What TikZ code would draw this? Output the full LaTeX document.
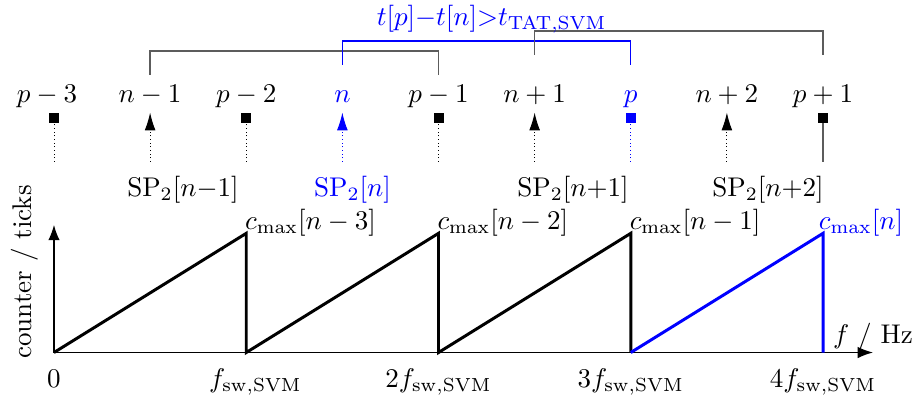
\documentclass[tikz,border=0pt]{standalone}
\usepackage{tikz}
\usetikzlibrary{arrows.meta,positioning,calc}
\definecolor{Hi}{HTML}{0000FF}
\definecolor{Rule}{HTML}{5C5C5C}
\tikzset{
  lbl/.style={anchor=base, inner sep=0pt},
  axis/.style={-{Latex[length=2mm,width=1.5mm]}, line width=0.5pt},
  saw/.style={line width=1.1pt},
  tiparrow/.style={-{Latex[length=2.3mm,width=1.4mm]}, densely dotted, line width=0.35pt},
  tipsq/.style={-{Square[length=1.3mm,width=1.3mm]}, densely dotted, line width=0.35pt},
  brk/.style={draw=Rule, line width=0.5pt},
}

\begin{document}
\begin{tikzpicture}
  \useasboundingbox (-0.702,-0.605) rectangle (11.274,4.584);
  % counter over one period each
  \coordinate (o) at (0,0);
  \coordinate (t1) at (2.5,0);
  \coordinate (t2) at (5,0);
  \coordinate (t3) at (7.5,0);
  \coordinate (t4) at (10,0);
  \coordinate (c1) at (2.5,1.55);
  \coordinate (c2) at (5,1.55);
  \coordinate (c3) at (7.5,1.55);
  \coordinate (c4) at (10,1.55);
  \coordinate (xend) at (10.65,0);
  \coordinate (yend) at (0,1.66);
  \draw[axis] (o) -- (xend);
  \draw[axis] (o) -- (yend);
  \draw[saw] (o) -- (c1) -- (t1) -- (c2) -- (t2) -- (c3) -- (t3);
  \draw[saw, draw=Hi] (t3) -- (c4) -- (t4);
  \node[rotate=90] (ylab) at (-0.377,1.047) {counter / ticks};
  \node[anchor=south, inner sep=0.5pt] (xlab) at (xend) {$f$ / Hz};
  \node[below=4.6mm of o, lbl] (f0) {$0$};
  \node[below=4.6mm of t1, lbl, xshift=1.2mm] (f1) {$f_{\mathrm{sw,SVM}}$};
  \node[below=4.6mm of t2, lbl] (f2) {$2f_{\mathrm{sw,SVM}}$};
  \node[below=4.6mm of t3, lbl] (f3) {$3f_{\mathrm{sw,SVM}}$};
  \node[below=4.6mm of t4, lbl] (f4) {$4f_{\mathrm{sw,SVM}}$};
  \node[lbl, anchor=base west] (m1) at ($(c1)+(-0.02,0.05)$) {$c_{\max}[n-3]$};
  \node[lbl, anchor=base west] (m2) at ($(c2)+(-0.02,0.05)$) {$c_{\max}[n-2]$};
  \node[lbl, anchor=base west] (m3) at ($(c3)+(-0.02,0.05)$) {$c_{\max}[n-1]$};
  \node[lbl, anchor=base west, text=Hi] (m4) at ($(c4)+(-0.06,0.05)$) {$c_{\max}[n]$};

  % events
  \node[lbl] (pm3) at (-0.09,3.25) {$p-3$};
  \node[lbl] (nm1) at (1.25,3.25) {$n-1$};
  \node[lbl] (pm2) at (2.5,3.25) {$p-2$};
  \node[lbl, text=Hi] (n0) at (3.75,3.25) {$n$};
  \node[lbl] (pm1) at (5,3.25) {$p-1$};
  \node[lbl] (np1) at (6.25,3.25) {$n+1$};
  \node[lbl, text=Hi] (p0) at (7.5,3.25) {$p$};
  \node[lbl] (np2) at (8.75,3.25) {$n+2$};
  \node[lbl] (pp1) at (10,3.25) {$p+1$};
  \coordinate (fpm3) at (0,2.48);
  \coordinate (fnm1) at (1.25,2.48);
  \coordinate (fpm2) at (2.5,2.48);
  \coordinate (fn0) at (3.75,2.48);
  \coordinate (fpm1) at (5,2.48);
  \coordinate (fnp1) at (6.25,2.48);
  \coordinate (fp0) at (7.5,2.48);
  \coordinate (fnp2) at (8.75,2.48);
  \coordinate (fpp1) at (10,2.48);
  \draw[tipsq] (fpm3) -- (0,3.12);
  \draw[tiparrow] (fnm1) -- ([yshift=-1.3mm]nm1.base);
  \draw[tipsq] (fpm2) -- ([yshift=-1.3mm]pm2.base);
  \draw[tiparrow, draw=Hi] (fn0) -- ([yshift=-1.3mm]n0.base);
  \draw[tipsq] (fpm1) -- ([yshift=-1.3mm]pm1.base);
  \draw[tiparrow] (fnp1) -- ([yshift=-1.3mm]np1.base);
  \draw[tipsq, draw=Hi] (fp0) -- ([yshift=-1.3mm]p0.base);
  \draw[tiparrow] (fnp2) -- ([yshift=-1.3mm]np2.base);
  \draw[-{Square[length=1.3mm,width=1.3mm,color=black]}, draw=Rule, line width=0.5pt] (fpp1) -- ([yshift=-1.3mm]pp1.base);
  \node[lbl] (sp1) at (1.677,2.03) {$\mathrm{SP}_2[n{-}1]$};
  \node[lbl, text=Hi] (sp0) at (3.882,2.03) {$\mathrm{SP}_2[n]$};
  \node[lbl] (sp2) at (6.749,2.03) {$\mathrm{SP}_2[n{+}1]$};
  \node[lbl] (sp3) at (9.285,2.03) {$\mathrm{SP}_2[n{+}2]$};

  % turnaround brackets
  \draw[brk] ([yshift=3.6mm]nm1.base) -- ++(0,3.1mm) -| ([yshift=3.6mm]pm1.base);
  \draw[brk, draw=Hi] ([yshift=4.9mm]n0.base) -- ++(0,3.1mm) -| ([yshift=4.9mm]p0.base);
  \draw[brk] ([yshift=6.2mm]np1.base) -- ++(0,3.1mm) -| ([yshift=6.2mm]pp1.base);
  \node[lbl, text=Hi] (tat) at (5.69,4.25) {$t[p]{-}t[n]{>}t_{\mathrm{TAT,SVM}}$};
\end{tikzpicture}
\end{document}
